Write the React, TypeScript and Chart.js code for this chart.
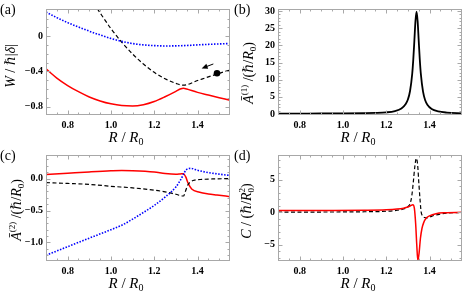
import React, { useEffect, useRef } from "react";
import { Chart, registerables } from "chart.js";

Chart.register(...registerables);

// ---------------- Data ----------------
const xTicks = [0.8, 1.0, 1.2, 1.4];
const xTickLabels = ["0.8", "1.0", "1.2", "1.4"];

// (a) W / ħ|δ|
const rA_blue = [0.7, 0.75, 0.8, 0.85, 0.9, 0.95, 1.0, 1.05, 1.1, 1.15, 1.2, 1.25, 1.3, 1.35, 1.4, 1.45, 1.5, 1.55];
const wA_blue = [0.275, 0.212, 0.155, 0.105, 0.058, 0.015, -0.025, -0.058, -0.083, -0.098, -0.106, -0.11, -0.109, -0.105, -0.098, -0.092, -0.087, -0.082];
const rA_red = [0.7, 0.75, 0.8, 0.85, 0.9, 0.95, 1.0, 1.05, 1.1, 1.15, 1.2, 1.25, 1.3, 1.32, 1.335, 1.35, 1.4, 1.45, 1.5, 1.55];
const wA_red = [-0.37, -0.475, -0.56, -0.63, -0.69, -0.735, -0.768, -0.788, -0.793, -0.778, -0.742, -0.688, -0.627, -0.6, -0.59, -0.6, -0.638, -0.668, -0.698, -0.728];
const rA_black = [0.92, 0.95, 1.0, 1.05, 1.1, 1.15, 1.2, 1.25, 1.3, 1.335, 1.4, 1.45, 1.5, 1.55];
const wA_black = [0.378, 0.266, 0.087, -0.068, -0.202, -0.316, -0.41, -0.483, -0.535, -0.556, -0.503, -0.462, -0.422, -0.383];
const yTicksA = [0, -0.4, -0.8];
const yTickLabelsA = ["0", "\u22120.4", "\u22120.8"];
const arrowA = { from: { x: 1.473, y: -0.315 }, to: { x: 1.419, y: -0.365 } };
const dotA = { x: 1.49, y: -0.42 };

// (b) Ā(1) / (ħ/R0)
const rB = [0.7, 0.8, 0.9, 1.0, 1.1, 1.15, 1.2, 1.24, 1.27, 1.29, 1.3, 1.31, 1.32, 1.325, 1.33, 1.335, 1.34, 1.345, 1.35, 1.355, 1.36, 1.37, 1.38, 1.39, 1.41, 1.44, 1.48, 1.55];
const aB = [0.1, 0.12, 0.14, 0.17, 0.23, 0.3, 0.47, 0.85, 1.6, 2.9, 4.2, 6.7, 11.7, 15.9, 21.4, 27.1, 29.8, 27.1, 21.4, 15.9, 11.6, 6.5, 4.0, 2.7, 1.45, 0.75, 0.4, 0.2];
const yTicksB = [0, 5, 10, 15, 20, 25, 30];
const yTickLabelsB = ["0", "5", "10", "15", "20", "25", "30"];

// (c) Ā(2) / (ħ/R0)
const rC_red = [0.7, 0.8, 0.9, 1.0, 1.05, 1.1, 1.2, 1.25, 1.3, 1.32, 1.335, 1.345, 1.357, 1.373, 1.41, 1.45, 1.49, 1.55];
const vC_red = [0.065, 0.085, 0.105, 0.122, 0.127, 0.125, 0.105, 0.08, 0.068, 0.073, 0.078, 0.03, -0.074, -0.163, -0.213, -0.24, -0.257, -0.282];
const rC_blue = [0.7, 0.8, 0.9, 1.0, 1.05, 1.1, 1.15, 1.2, 1.25, 1.3, 1.325, 1.34, 1.355, 1.37, 1.4, 1.45, 1.5, 1.55];
const vC_blue = [-1.2, -1.066, -0.932, -0.8, -0.73, -0.635, -0.53, -0.42, -0.29, -0.13, 0.0, 0.1, 0.155, 0.16, 0.13, 0.095, 0.07, 0.05];
const rC_black = [0.7, 0.8, 0.9, 1.0, 1.1, 1.2, 1.25, 1.3, 1.335, 1.345, 1.355, 1.37, 1.39, 1.42, 1.47, 1.55];
const vC_black = [-0.062, -0.075, -0.09, -0.12, -0.145, -0.18, -0.207, -0.245, -0.272, -0.19, -0.1, -0.045, -0.022, -0.012, -0.005, 0];
const yTicksC = [0, -0.5, -1.0];
const yTickLabelsC = ["0.0", "\u22120.5", "\u22121.0"];

// (d) C / (ħ/R0^2)
const rD_red = [0.7, 0.9, 1.1, 1.2, 1.25, 1.28, 1.3, 1.312, 1.323, 1.33, 1.336, 1.341, 1.346, 1.352, 1.358, 1.365, 1.373, 1.385, 1.4, 1.43, 1.47, 1.55];
const vD_red = [0.25, 0.27, 0.3, 0.37, 0.48, 0.62, 0.8, 1.0, 1.15, 0.6, -1.8, -5.0, -7.4, -6.2, -4.0, -2.5, -1.6, -0.9, -0.55, -0.22, -0.08, -0.02];
const rD_black = [0.7, 0.9, 1.1, 1.2, 1.25, 1.28, 1.3, 1.31, 1.318, 1.325, 1.332, 1.339, 1.345, 1.351, 1.356, 1.361, 1.368, 1.377, 1.387, 1.4, 1.42, 1.45, 1.49, 1.55];
const vD_black = [0.02, 0.03, 0.07, 0.15, 0.3, 0.5, 0.85, 1.3, 2.5, 4.6, 7.0, 8.3, 7.3, 4.3, 2.0, 0.1, -0.55, -0.82, -0.87, -0.75, -0.5, -0.28, -0.12, -0.03];
const yTicksD = [5, 0, -5];
const yTickLabelsD = ["5", "0", "\u22125"];

// ---------------- Styling / helpers ----------------
const SERIF = '"Liberation Serif", "DejaVu Serif", serif';
const RED = "#ff0000";
const BLUE = "#0000ff";
const BLACK = "#000000";
const FRAME = "#a8a8a8";

type Seg = { t: string; it?: boolean; s?: "sup" | "sub"; keep?: boolean };

function drawRich(ctx: CanvasRenderingContext2D, segs: Seg[], cx: number, cy: number, size: number, rotate: boolean) {
  const fontFor = (g: Seg) => `${g.it ? "italic " : ""}${g.s ? Math.round(size * 0.65) : size}px ${SERIF}`;
  const widths: number[] = [];
  let total = 0;
  for (const g of segs) {
    ctx.font = fontFor(g);
    const w = ctx.measureText(g.t).width;
    widths.push(w);
    if (!g.keep) total += w;
  }
  ctx.save();
  ctx.translate(cx, cy);
  if (rotate) ctx.rotate(-Math.PI / 2);
  ctx.textAlign = "left";
  ctx.textBaseline = "alphabetic";
  ctx.fillStyle = "#000";
  let x = -total / 2;
  const base = size * 0.33;
  segs.forEach((g, i) => {
    ctx.font = fontFor(g);
    const dy = g.s === "sup" ? -size * 0.4 : g.s === "sub" ? size * 0.22 : 0;
    ctx.fillText(g.t, x, base + dy);
    if (!g.keep) x += widths[i];
  });
  ctx.restore();
}

function range(a: number, b: number, step: number) {
  const out: number[] = [];
  const n = Math.round((b - a) / step);
  for (let i = 0; i <= n; i++) out.push(+(a + i * step).toFixed(6));
  return out;
}

type Series = { r: number[]; v: number[]; color: string; width: number; dash?: number[] };
type Spec = {
  label: string;
  labelX: number;
  yMin: number;
  yMax: number;
  yTicks: number[];
  yTickLabels: string[];
  yMinor: number[];
  yTitle: Seg[];
  yTitleX: number;
  yTitleDy: number;
  series: Series[];
  extra?: (chart: any) => void;
};

const X_TITLE: Seg[] = [{ t: "R", it: true }, { t: " / " }, { t: "R", it: true }, { t: "0", s: "sub" }];

function framePlugin(spec: Spec) {
  return {
    id: "frame" + spec.label,
    afterDatasetsDraw(chart: any) {
      if (spec.extra) spec.extra(chart);
    },
    afterDraw(chart: any) {
      const { ctx, chartArea: ca, scales } = chart;
      const L = Math.round(ca.left) + 0.5;
      const T = Math.round(ca.top) + 0.5;
      const R = Math.round(ca.right) - 0.5;
      const B = Math.round(ca.bottom) - 0.5;
      ctx.save();
      ctx.strokeStyle = FRAME;
      ctx.lineWidth = 1;
      ctx.strokeRect(L, T, R - L, B - T);
      ctx.beginPath();
      const xMinor = range(0.7, 1.55, 0.05);
      for (const v of xMinor) {
        const px = Math.round(scales.x.getPixelForValue(v)) + 0.5;
        if (px <= L + 1 || px >= R - 1) continue;
        const major = xTicks.some((t) => Math.abs(t - v) < 1e-6);
        const len = major ? 4 : 2;
        ctx.moveTo(px, B); ctx.lineTo(px, B - len);
        ctx.moveTo(px, T); ctx.lineTo(px, T + len);
      }
      for (const v of spec.yMinor) {
        if (v < spec.yMin || v > spec.yMax) continue;
        const py = Math.round(scales.y.getPixelForValue(v)) + 0.5;
        if (py <= T + 1 || py >= B - 1) continue;
        const major = spec.yTicks.some((t) => Math.abs(t - v) < 1e-6);
        const len = major ? 4 : 2;
        ctx.moveTo(L, py); ctx.lineTo(L + len, py);
        ctx.moveTo(R, py); ctx.lineTo(R - len, py);
      }
      ctx.stroke();
      // panel label
      ctx.fillStyle = "#000";
      ctx.font = `14px ${SERIF}`;
      ctx.textAlign = "left";
      ctx.textBaseline = "middle";
      ctx.fillText(spec.label, spec.labelX, 10);
      // axis titles
      drawRich(ctx, X_TITLE, 126, 137, 15, false);
      drawRich(ctx, spec.yTitle, spec.yTitleX, (ca.top + ca.bottom) / 2 + spec.yTitleDy, 14, true);
      ctx.restore();
    },
  };
}

function buildConfig(spec: Spec): any {
  const tickFont = { family: SERIF, size: 10, weight: "bold" as const };
  return {
    type: "line",
    data: {
      datasets: spec.series.map((s) => ({
        data: s.r.map((x, i) => ({ x, y: s.v[i] })),
        borderColor: s.color,
        borderWidth: s.width,
        borderDash: s.dash || [],
        pointRadius: 0,
        fill: false,
        cubicInterpolationMode: "monotone",
      })),
    },
    options: {
      animation: false,
      responsive: false,
      devicePixelRatio: 1,
      layout: { padding: { top: 3, right: 2, left: 0, bottom: 0 } },
      plugins: { legend: { display: false }, tooltip: { enabled: false } },
      scales: {
        x: {
          type: "linear",
          min: 0.7,
          max: 1.55,
          afterFit: (s: any) => { s.height = 31; },
          afterBuildTicks: (s: any) => { s.ticks = xTicks.map((v) => ({ value: v })); },
          ticks: {
            callback: (_v: any, i: number) => xTickLabels[i],
            font: tickFont,
            color: "#000",
            padding: 4,
            maxRotation: 0,
            autoSkip: false,
          },
          grid: { display: false, drawTicks: false },
          border: { display: false },
        },
        y: {
          type: "linear",
          min: spec.yMin,
          max: spec.yMax,
          afterFit: (s: any) => { s.width = 46; },
          afterBuildTicks: (s: any) => { s.ticks = spec.yTicks.map((v) => ({ value: v })); },
          ticks: {
            callback: (_v: any, i: number) => spec.yTickLabels[i],
            font: tickFont,
            color: "#000",
            padding: 3,
            autoSkip: false,
          },
          grid: { display: false, drawTicks: false },
          border: { display: false },
        },
      },
    },
    plugins: [framePlugin(spec)],
  };
}

const pts = (r: number[], v: number[]) => ({ r, v });

const specs: Spec[] = [
  {
    label: "(a)",
    labelX: 0,
    yMin: -0.895,
    yMax: 0.31,
    yTicks: yTicksA,
    yTickLabels: yTickLabelsA,
    yMinor: range(-0.9, 0.3, 0.1),
    yTitle: [{ t: "W", it: true }, { t: " / " }, { t: "\u210F", it: true }, { t: "|" }, { t: "\u03B4", it: true }, { t: "|" }],
    yTitleX: 10,
    yTitleDy: 4,
    series: [
      { ...pts(rA_blue, wA_blue), color: BLUE, width: 1.6, dash: [1.5, 1.5] },
      { ...pts(rA_black, wA_black), color: BLACK, width: 1.2, dash: [4, 2.5] },
      { ...pts(rA_red, wA_red), color: RED, width: 1.5 },
    ],
    extra: (chart: any) => {
      const { ctx, scales } = chart;
      const x1 = scales.x.getPixelForValue(arrowA.from.x), y1 = scales.y.getPixelForValue(arrowA.from.y);
      const x2 = scales.x.getPixelForValue(arrowA.to.x), y2 = scales.y.getPixelForValue(arrowA.to.y);
      const ang = Math.atan2(y2 - y1, x2 - x1);
      ctx.save();
      ctx.strokeStyle = "#000";
      ctx.fillStyle = "#000";
      ctx.lineWidth = 1;
      ctx.beginPath();
      ctx.moveTo(x1, y1);
      ctx.lineTo(x2 - 4 * Math.cos(ang), y2 - 4 * Math.sin(ang));
      ctx.stroke();
      ctx.beginPath();
      ctx.moveTo(x2, y2);
      ctx.lineTo(x2 - 6 * Math.cos(ang) + 2.6 * Math.sin(ang), y2 - 6 * Math.sin(ang) - 2.6 * Math.cos(ang));
      ctx.lineTo(x2 - 6 * Math.cos(ang) - 2.6 * Math.sin(ang), y2 - 6 * Math.sin(ang) + 2.6 * Math.cos(ang));
      ctx.closePath();
      ctx.fill();
      const dx = scales.x.getPixelForValue(dotA.x), dy = scales.y.getPixelForValue(dotA.y);
      ctx.beginPath();
      ctx.arc(dx, dy, 3.3, 0, Math.PI * 2);
      ctx.fill();
      ctx.restore();
    },
  },
  {
    label: "(b)",
    labelX: 2,
    yMin: -0.3,
    yMax: 30.6,
    yTicks: yTicksB,
    yTickLabels: yTickLabelsB,
    yMinor: range(0, 30, 1),
    yTitle: [
      { t: "\u0100", it: true }, { t: "(1)", s: "sup" }, { t: " /(" }, { t: "\u210F", it: true }, { t: "/" },
      { t: "R", it: true }, { t: "0", s: "sub" }, { t: ")" },
    ],
    yTitleX: 16,
    yTitleDy: 11,
    series: [{ ...pts(rB, aB), color: BLACK, width: 1.8 }],
  },
  {
    label: "(c)",
    labelX: 0,
    yMin: -1.29,
    yMax: 0.37,
    yTicks: yTicksC,
    yTickLabels: yTickLabelsC,
    yMinor: range(-1.2, 0.3, 0.1),
    yTitle: [
      { t: "\u0100", it: true }, { t: "(2)", s: "sup" }, { t: " /(" }, { t: "\u210F", it: true }, { t: "/" },
      { t: "R", it: true }, { t: "0", s: "sub" }, { t: ")" },
    ],
    yTitleX: 16,
    yTitleDy: 2,
    series: [
      { ...pts(rC_blue, vC_blue), color: BLUE, width: 1.6, dash: [1.5, 1.5] },
      { ...pts(rC_black, vC_black), color: BLACK, width: 1.2, dash: [4, 2.5] },
      { ...pts(rC_red, vC_red), color: RED, width: 1.5 },
    ],
  },
  {
    label: "(d)",
    labelX: 2,
    yMin: -7.5,
    yMax: 8.8,
    yTicks: yTicksD,
    yTickLabels: yTickLabelsD,
    yMinor: range(-7, 8, 1),
    yTitle: [
      { t: "C", it: true }, { t: " / (" }, { t: "\u210F", it: true }, { t: "/" },
      { t: "R", it: true }, { t: "0", s: "sub", keep: true }, { t: "2", s: "sup" }, { t: ")" },
    ],
    yTitleX: 14,
    yTitleDy: 3,
    series: [
      { ...pts(rD_red, vD_red), color: RED, width: 1.5 },
      { ...pts(rD_black, vD_black), color: BLACK, width: 1.2, dash: [4, 2.5] },
    ],
  },
];

function Panel({ spec, left, top }: { spec: Spec; left: number; top: number }) {
  const ref = useRef<HTMLCanvasElement | null>(null);
  useEffect(() => {
    if (!ref.current) return;
    const chart = new Chart(ref.current, buildConfig(spec));
    return () => chart.destroy();
  }, [spec]);
  return (
    <canvas
      ref={ref}
      width={232}
      height={146}
      style={{ position: "absolute", left, top, width: 232, height: 146 }}
    />
  );
}

export default function App() {
  useEffect(() => {
    document.body.style.margin = "0";
  }, []);
  return (
    <div style={{ position: "relative", width: 464, height: 292, background: "#fff" }}>
      <Panel spec={specs[0]} left={0} top={0} />
      <Panel spec={specs[1]} left={232} top={0} />
      <Panel spec={specs[2]} left={0} top={146} />
      <Panel spec={specs[3]} left={232} top={146} />
    </div>
  );
}
